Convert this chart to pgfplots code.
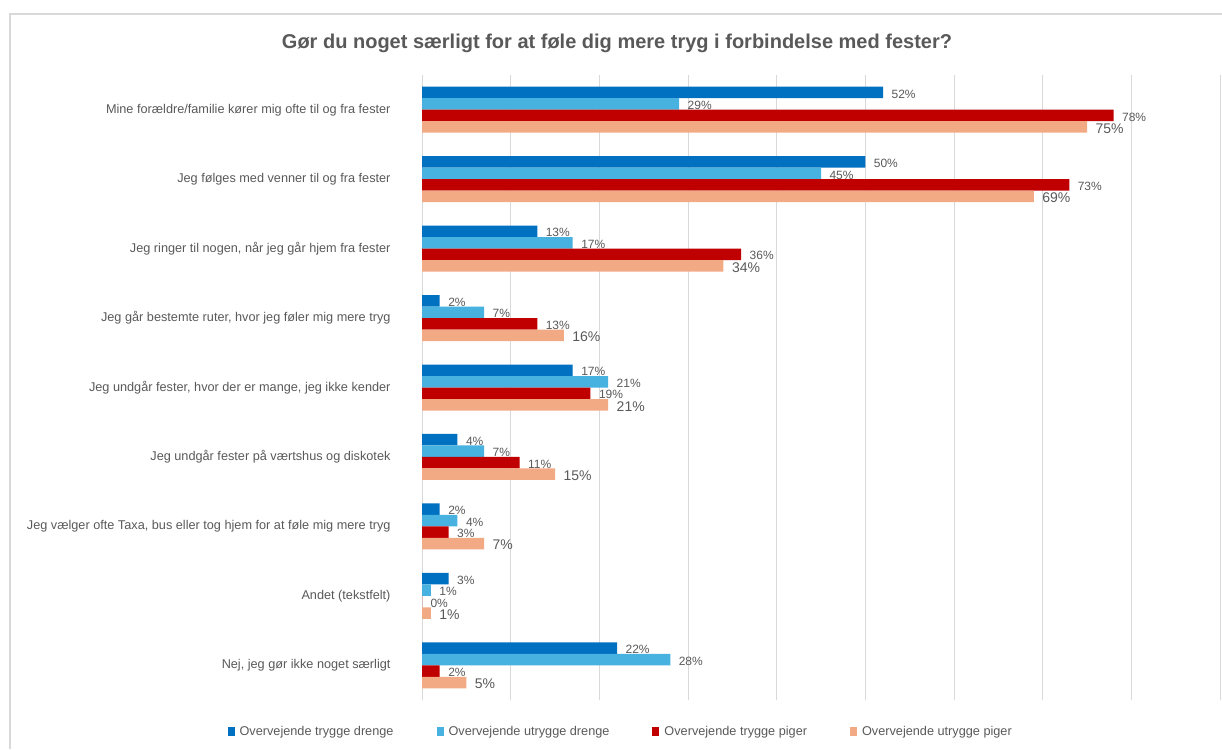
\documentclass[border=0pt]{standalone}
\usepackage{fontspec}
\setmainfont{Liberation Sans}
\usepackage{pgfplots}
\pgfplotsset{compat=1.18}
\definecolor{tdreng}{HTML}{0070C0}
\definecolor{udreng}{HTML}{47B1E0}
\definecolor{tpige}{HTML}{C00000}
\definecolor{upige}{HTML}{F2AA84}
\definecolor{txt}{HTML}{595959}
\definecolor{gridc}{HTML}{D9D9D9}

% one table per series; y = 8 is the top category
\pgfplotstableread{
x y
52 8
50 7
13 6
2 5
17 4
4 3
2 2
3 1
22 0
}\tdrengdata
\pgfplotstableread{
x y
29 8
45 7
17 6
7 5
21 4
7 3
4 2
1 1
28 0
}\udrengdata
\pgfplotstableread{
x y
78 8
73 7
36 6
13 5
19 4
11 3
3 2
0 1
2 0
}\tpigedata
\pgfplotstableread{
x y
75 8
69 7
34 6
16 5
21 4
15 3
7 2
1 1
5 0
}\upigedata

\begin{document}
\begin{tikzpicture}
\useasboundingbox (0pt,0pt) rectangle (1222pt,-749pt);
\draw[gridc, line width=1.5pt] (10pt,-749pt) -- (10pt,-14pt) -- (1222pt,-14pt);
\node[font=\bfseries\fontsize{20}{24}\selectfont, text=txt] at (617pt,-43pt)
  {Gør du noget særligt for at føle dig mere tryg i forbindelse med fester?};
\begin{axis}[
  at={(422pt,-700pt)}, anchor=south west,
  scale only axis, width=798pt, height=625pt,
  xbar, bar width=11.5pt,
  xmin=0, xmax=90, ymin=-0.5, ymax=8.5,
  xtick={0,10,...,90}, xticklabels={},
  xmajorgrids, grid style={gridc, line width=0.8pt},
  ytick={0,...,8},
  yticklabels={
    {Nej, jeg gør ikke noget særligt},
    {Andet (tekstfelt)},
    {Jeg vælger ofte Taxa, bus eller tog hjem for at føle mig mere tryg},
    {Jeg undgår fester på værtshus og diskotek},
    {Jeg undgår fester, hvor der er mange, jeg ikke kender},
    {Jeg går bestemte ruter, hvor jeg føler mig mere tryg},
    {Jeg ringer til nogen, når jeg går hjem fra fester},
    {Jeg følges med venner til og fra fester},
    {Mine forældre/familie kører mig ofte til og fra fester}},
  yticklabel style={font=\fontsize{12.7}{15}\selectfont, text=txt, xshift=-28pt},
  major tick length=0pt, axis line style={draw=none},
  /pgf/number format/assume math mode=true,
  nodes near coords={\pgfmathprintnumber{\pgfplotspointmeta}\%},
  point meta=x,
  every node near coord/.append style={font=\fontsize{12}{14}\selectfont, text=txt, xshift=5pt, yshift=-1.5pt},
  legend style={at={(0.249,-0.051)}, anchor=center, draw=none, fill=none,
    legend columns=4, font=\fontsize{12.7}{15}\selectfont, text=txt,
    /tikz/every odd column/.append style={column sep=3pt},
    /tikz/every even column/.append style={column sep=41pt}},
  legend image code/.code={\fill[#1] (0pt,-4.5pt) rectangle (7pt,4.5pt);},
]
\addplot[fill=tdreng, draw=none, bar shift=17.25pt] table[x=x,y=y] {\tdrengdata};
\addplot[fill=udreng, draw=none, bar shift=5.75pt] table[x=x,y=y] {\udrengdata};
\addplot[fill=tpige, draw=none, bar shift=-5.75pt] table[x=x,y=y] {\tpigedata};
\addplot[fill=upige, draw=none, bar shift=-17.25pt,
  every node near coord/.append style={font=\fontsize{14}{16}\selectfont}] table[x=x,y=y] {\upigedata};
\legend{Overvejende trygge drenge, Overvejende utrygge drenge, Overvejende trygge piger, Overvejende utrygge piger}
\end{axis}
\end{tikzpicture}
\end{document}
